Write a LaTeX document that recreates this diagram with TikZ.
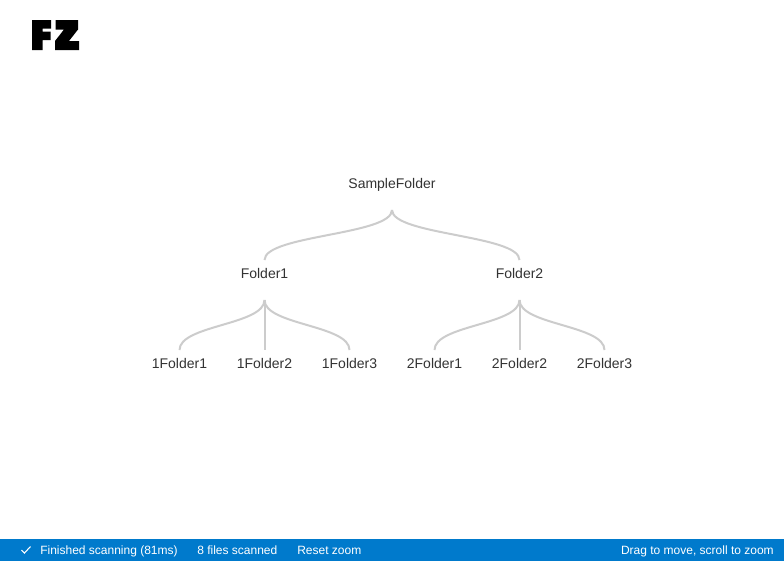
\documentclass[tikz,border=0pt]{standalone}
\usepackage{fontspec}
\setmainfont{Liberation Sans}
\definecolor{barblue}{HTML}{007ACC}
\definecolor{linkgrey}{HTML}{CCCCCC}
\definecolor{labelgrey}{HTML}{333333}
\newcommand{\labelfont}{\fontsize{10.5pt}{12pt}\selectfont}
\newcommand{\barfont}{\fontsize{9pt}{11pt}\selectfont}
\tikzset{
  treelabel/.style={text=labelgrey,inner sep=0pt,font=\labelfont,anchor=base},
  barlabel/.style={text=white,inner sep=0pt,font=\barfont,anchor=base west},
  link/.style={draw=linkgrey,line width=1.5pt},
}
\begin{document}
\begin{tikzpicture}[x=0.75pt,y=-0.75pt]
\useasboundingbox (0,0) rectangle (784,561);
\fill[white] (0,0) rectangle (784,561);
% logo
\fill[black] (32,20) -- (51,20) -- (51,28.5) -- (42.5,28.5) -- (42.5,31.5) -- (50.5,31.5) -- (50.5,40) -- (42.5,40) -- (42.5,50) -- (32,50) -- cycle;
\fill[black] (55.5,20) -- (78,20) -- (78,29.5) -- (69,41) -- (79,41) -- (79,50) -- (55,50) -- (55,41) -- (64,29.5) -- (55.5,29.5) -- cycle;
% tree
\node[treelabel] (root) at (392,188) {SampleFolder};
\node[treelabel] (f1) at (264.5,278) {Folder1};
\node[treelabel] (f2) at (519.5,278) {Folder2};
\node[treelabel] (a1) at (179.5,368) {1Folder1};
\node[treelabel] (a2) at (264.5,368) {1Folder2};
\node[treelabel] (a3) at (349.5,368) {1Folder3};
\node[treelabel] (b1) at (434.5,368) {2Folder1};
\node[treelabel] (b2) at (519.5,368) {2Folder2};
\node[treelabel] (b3) at (604.5,368) {2Folder3};
\coordinate (rs) at (392,210);
\coordinate (f1s) at (264.5,300);
\coordinate (f2s) at (519.5,300);
\coordinate (f1t) at (264.5,260);
\coordinate (f2t) at (519.5,260);
\coordinate (a1t) at (179.5,350);
\coordinate (a2t) at (264.5,350);
\coordinate (a3t) at (349.5,350);
\coordinate (b1t) at (434.5,350);
\coordinate (b2t) at (519.5,350);
\coordinate (b3t) at (604.5,350);
\foreach \s/\t/\my in {rs/f1t/235,rs/f2t/235,f1s/a1t/325,f1s/a2t/325,f1s/a3t/325,f2s/b1t/325,f2s/b2t/325,f2s/b3t/325}{
  \draw[link] (\s) .. controls (\s |- {0,\my}) and (\t |- {0,\my}) .. (\t);
}
% status bar
\fill[barblue] (0,539) rectangle (784,561);
\draw[white,line width=0.8pt] (21.5,550) -- (24.5,553) -- (30.5,546.5);
\node[barlabel] (s1) at (40,554) {Finished scanning (81ms)};
\node[barlabel] (s2) at (197,554) {8 files scanned};
\node[barlabel] (s3) at (297,554) {Reset zoom};
\node[barlabel,anchor=base east] (s4) at (774,554) {Drag to move, scroll to zoom};
\end{tikzpicture}
\end{document}
